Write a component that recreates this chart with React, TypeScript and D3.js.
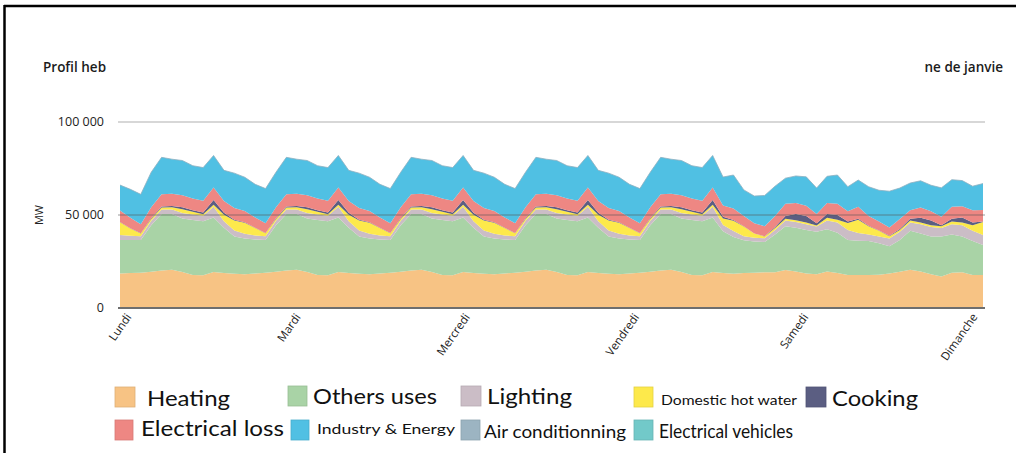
import React from "react";
import * as d3 from "d3";

const width = 1016;
const height = 453;
const plot = { left: 120, right: 983, top: 122, bottom: 308 };

// one point every 2 hours, Monday 0h -> Sunday 22h
const hours = d3.range(0, 168, 2);
const dayLabels = ["Lundi", "Mardi", "Mercredi", "Vendredi", "Samedi", "Dimanche"];
const yTicks = [0, 50, 100]; // thousands of MW

// values in thousands of MW, 12 points per day
const heating = [
  18.6, 18.8, 19.0, 19.5, 20.2, 20.5, 19.3, 17.8, 17.6, 19.4, 18.8, 18.4,
  18.2, 18.6, 19.0, 19.5, 20.2, 20.5, 19.3, 17.8, 17.6, 19.4, 18.8, 18.4,
  18.2, 18.6, 19.0, 19.5, 20.2, 20.5, 19.3, 17.8, 17.6, 19.4, 18.8, 18.4,
  18.2, 18.6, 19.0, 19.5, 20.2, 20.5, 19.3, 17.8, 17.6, 19.4, 18.8, 18.4,
  18.2, 18.6, 19.0, 19.5, 20.2, 20.5, 19.3, 17.8, 17.6, 19.4, 18.8, 18.4,
  18.8, 19.0, 19.2, 19.2, 20.4, 19.6, 18.5, 18.2, 19.6, 18.8, 17.7, 17.7,
  17.7, 17.9, 18.5, 19.5, 20.6, 19.6, 18.2, 16.9, 19.0, 19.2, 17.7, 17.7,
];
const others = [
  18.0, 17.8, 17.6, 25.0, 30.3, 30.0, 28.8, 29.5, 29.0, 29.3, 24.4, 20.0,
  19.1, 18.2, 17.6, 25.0, 30.3, 30.0, 28.8, 29.5, 29.0, 29.3, 24.4, 20.0,
  19.1, 18.2, 17.6, 25.0, 30.3, 30.0, 28.8, 29.5, 29.0, 29.3, 24.4, 20.0,
  19.1, 18.2, 17.6, 25.0, 30.3, 30.0, 28.8, 29.5, 29.0, 29.3, 24.4, 20.0,
  19.1, 18.2, 17.6, 25.0, 30.3, 30.0, 28.8, 29.5, 29.0, 29.3, 22.5, 19.8,
  17.6, 16.8, 16.3, 20.3, 23.6, 23.6, 23.5, 22.8, 22.7, 21.7, 18.9, 18.5,
  18.3, 16.9, 14.7, 17.1, 20.9, 20.4, 20.3, 21.5, 20.5, 19.3, 18.3, 16.2,
];
const lighting = [
  2.7, 2.2, 2.0, 2.4, 2.5, 2.5, 3.0, 3.0, 3.0, 5.8, 3.5, 3.2,
  2.6, 2.2, 2.0, 2.4, 2.5, 2.5, 3.0, 3.0, 3.0, 5.8, 3.5, 3.2,
  2.6, 2.2, 2.0, 2.4, 2.5, 2.5, 3.0, 3.0, 3.0, 5.8, 3.5, 3.2,
  2.6, 2.2, 2.0, 2.4, 2.5, 2.5, 3.0, 3.0, 3.0, 5.8, 3.5, 3.2,
  2.6, 2.2, 2.0, 2.4, 2.5, 2.5, 3.0, 3.0, 3.0, 5.8, 3.3, 3.2,
  2.2, 2.0, 2.0, 2.5, 3.0, 3.1, 3.0, 2.8, 4.7, 5.5, 5.3, 4.1,
  3.5, 3.7, 4.1, 4.4, 4.5, 5.0, 5.0, 4.6, 5.5, 6.0, 5.5, 5.3,
];
const hotWater = [
  6.8, 4.0, 1.5, 1.0, 1.0, 1.2, 2.0, 1.5, 0.8, 1.0, 3.5, 5.5,
  6.0, 4.0, 1.6, 1.0, 1.0, 1.2, 2.0, 1.5, 0.8, 1.0, 3.5, 5.5,
  6.0, 4.0, 1.6, 1.0, 1.0, 1.2, 2.0, 1.5, 0.8, 1.0, 3.5, 5.5,
  6.0, 4.0, 1.6, 1.0, 1.0, 1.2, 2.0, 1.5, 0.8, 1.0, 3.5, 5.5,
  6.0, 4.0, 1.6, 1.0, 1.0, 1.2, 2.0, 1.5, 0.8, 1.0, 3.5, 5.5,
  5.2, 2.2, 1.0, 1.0, 1.0, 0.9, 1.0, 0.5, 1.5, 1.5, 3.8, 7.2,
  4.5, 3.0, 1.3, 1.0, 1.0, 1.0, 1.0, 1.0, 1.5, 1.5, 3.0, 7.0,
];
const cooking = [
  0.2, 0.1, 0.1, 0.3, 0.6, 0.6, 1.0, 0.8, 1.0, 2.5, 1.0, 0.4,
  0.2, 0.1, 0.1, 0.3, 0.6, 0.6, 1.0, 0.8, 1.0, 2.5, 1.0, 0.4,
  0.2, 0.1, 0.1, 0.3, 0.6, 0.6, 1.0, 0.8, 1.0, 2.5, 1.0, 0.4,
  0.2, 0.1, 0.1, 0.3, 0.6, 0.6, 1.0, 0.8, 1.0, 2.5, 1.0, 0.4,
  0.2, 0.1, 0.1, 0.3, 0.6, 0.6, 1.0, 0.8, 1.0, 2.5, 1.0, 0.4,
  0.2, 0.1, 0.1, 0.5, 1.5, 3.3, 3.5, 1.2, 2.0, 2.5, 0.8, 0.5,
  0.2, 0.1, 0.2, 0.5, 1.0, 2.5, 2.5, 0.5, 1.5, 2.7, 1.5, 0.3,
];
const loss = [
  6.1, 5.6, 4.8, 6.0, 6.5, 6.6, 6.5, 6.3, 6.2, 6.8, 6.3, 6.2,
  6.0, 5.6, 5.3, 6.0, 6.5, 6.6, 6.5, 6.3, 6.2, 6.8, 6.3, 6.2,
  6.0, 5.6, 5.3, 6.0, 6.5, 6.6, 6.5, 6.3, 6.2, 6.8, 6.3, 6.2,
  6.0, 5.6, 5.3, 6.0, 6.5, 6.6, 6.5, 6.3, 6.2, 6.8, 6.3, 6.2,
  6.0, 5.6, 5.3, 6.0, 6.5, 6.6, 6.5, 6.3, 6.2, 6.8, 6.0, 6.2,
  5.5, 5.4, 5.4, 6.0, 6.5, 6.0, 5.5, 5.0, 6.0, 6.0, 5.5, 6.5,
  5.3, 4.9, 4.5, 5.3, 4.5, 5.5, 5.0, 4.5, 6.5, 6.0, 6.5, 6.2,
];
const industry = [
  13.7, 15.3, 16.1, 18.8, 19.9, 18.6, 18.7, 17.6, 17.9, 17.2, 16.5, 18.8,
  18.2, 17.8, 18.6, 18.8, 19.9, 18.6, 18.7, 17.6, 17.9, 17.2, 16.5, 18.8,
  18.2, 17.8, 18.6, 18.8, 19.9, 18.6, 18.7, 17.6, 17.9, 17.2, 16.5, 18.8,
  18.2, 17.8, 18.6, 18.8, 19.9, 18.6, 18.7, 17.6, 17.9, 17.2, 16.5, 18.8,
  18.2, 17.8, 18.6, 18.8, 19.9, 18.6, 18.7, 17.6, 17.9, 17.2, 15.3, 18.0,
  14.0, 14.7, 16.5, 16.0, 13.8, 14.5, 15.5, 14.0, 14.3, 15.5, 13.2, 14.3,
  15.7, 16.8, 19.5, 16.7, 14.7, 14.4, 14.0, 15.6, 14.5, 13.8, 13.0, 14.2,
];

const stackKeys = ["heating", "others", "lighting", "hotWater", "cooking", "loss", "industry"];
const colors: Record<string, string> = {
  heating: "#f7c384",
  others: "#a9d3a6",
  lighting: "#cbbdc6",
  hotWater: "#fde94b",
  cooking: "#5b5e82",
  loss: "#ee8783",
  industry: "#50c0e3",
  ac: "#9cb4c2",
  ev: "#72c9c9",
};

// legend layout
const legend = [
  { key: "heating", label: "Heating", sx: 115, sy: 387, sw: 20, tx: 147, ty: 406, fs: 21, tl: 83 },
  { key: "others", label: "Others uses", sx: 288, sy: 386, sw: 19, tx: 313, ty: 404, fs: 21, tl: 124 },
  { key: "lighting", label: "Lighting", sx: 461, sy: 386, sw: 20, tx: 487, ty: 404, fs: 21, tl: 85 },
  { key: "hotWater", label: "Domestic hot water", sx: 634, sy: 387, sw: 19, tx: 661, ty: 405, fs: 14, tl: 136 },
  { key: "cooking", label: "Cooking", sx: 806, sy: 387, sw: 20, tx: 832, ty: 406, fs: 22, tl: 86 },
  { key: "loss", label: "Electrical loss", sx: 115, sy: 420, sw: 18, tx: 141, ty: 436, fs: 22, tl: 143 },
  { key: "industry", label: "Industry & Energy", sx: 291, sy: 420, sw: 18, tx: 317, ty: 434, fs: 14, tl: 138 },
  { key: "ac", label: "Air conditionning", sx: 461, sy: 420, sw: 19, tx: 484, ty: 438, fs: 18, tl: 142 },
  { key: "ev", label: "Electrical vehicles", sx: 634, sy: 420, sw: 19, tx: 659, ty: 438, fs: 20, tl: 134 },
];

export default function App() {
  const rows = hours.map((h, i) => ({
    h,
    heating: heating[i],
    others: others[i],
    lighting: lighting[i],
    hotWater: hotWater[i],
    cooking: cooking[i],
    loss: loss[i],
    industry: industry[i],
  }));

  const x = d3.scaleLinear().domain([0, 166]).range([plot.left, plot.right]);
  const y = d3.scaleLinear().domain([0, 100]).range([plot.bottom, plot.top]);
  const dayX = d3.scalePoint().domain(dayLabels).range([132, 978]);

  const series = d3.stack<any>().keys(stackKeys)(rows);
  const area = d3
    .area<any>()
    .x((d) => x(d.data.h))
    .y0((d) => y(d[0]))
    .y1((d) => y(d[1]));
  const topLine = d3
    .line<any>()
    .x((d) => x(d.data.h))
    .y((d) => y(d[1]));

  const fmt = (v: number) => d3.format(",")(v * 1000).replace(/,/g, " ");
  const axisFont = "'Open Sans', 'DejaVu Sans', sans-serif";
  const legendFont = "Lato, 'Open Sans', sans-serif";

  return (
    <svg
      width={width}
      height={height}
      style={{ position: "absolute", left: 0, top: 0, background: "#fff" }}
    >
      {/* frame */}
      <line x1={4} x2={1016} y1={6} y2={6} stroke="#000" strokeWidth={2.5} />
      <line x1={4.5} x2={4.5} y1={5} y2={453} stroke="#000" strokeWidth={2.5} />

      {/* title fragments */}
      <text x={43} y={72} fontFamily={axisFont} fontSize={13.5} fontWeight={600} fill="#1b1b1b">
        Profil heb
      </text>
      <text x={1003} y={72} textAnchor="end" fontFamily={axisFont} fontSize={13.5} fontWeight={600} fill="#1b1b1b">
        ne de janvie
      </text>

      {/* grid 100 000 */}
      <line x1={118} x2={985} y1={y(100)} y2={y(100)} stroke="#cacaca" strokeWidth={1.5} />

      {series.map((s) => (
        <path key={s.key} d={area(s) || ""} fill={colors[s.key]} />
      ))}
      <path
        d={topLine(series[series.length - 1]) || ""}
        fill="none"
        stroke="#8fb0c0"
        strokeWidth={1}
        opacity={0.8}
      />

      {/* grid 50 000 over the areas */}
      <line x1={118} x2={985} y1={y(50)} y2={y(50)} stroke="#555" strokeOpacity={0.4} strokeWidth={1.5} />
      {/* baseline */}
      <line x1={118} x2={985} y1={y(0)} y2={y(0)} stroke="#6e6e6e" strokeWidth={2} />

      {yTicks.map((t) => (
        <text
          key={t}
          x={104}
          y={y(t)}
          dy="0.35em"
          textAnchor="end"
          fontFamily={axisFont}
          fontSize={12.5}
          fill="#222"
        >
          {fmt(t)}
        </text>
      ))}
      <text
        transform={`translate(43,${y(50)}) rotate(-90)`}
        textAnchor="middle"
        fontFamily={axisFont}
        fontSize={11}
        fill="#222"
      >
        MW
      </text>

      {dayLabels.map((d) => (
        <text
          key={d}
          transform={`translate(${dayX(d)},317) rotate(-55)`}
          textAnchor="end"
          fontFamily={axisFont}
          fontSize={11.5}
          fill="#222"
        >
          {d}
        </text>
      ))}

      {legend.map((l) => (
        <g key={l.key}>
          <rect
            x={l.sx}
            y={l.sy}
            width={l.sw}
            height={20}
            fill={colors[l.key]}
            stroke={d3.color(colors[l.key])!.darker(0.3).toString()}
            strokeWidth={0.8}
          />
          <text
            x={l.tx}
            y={l.ty}
            fontFamily={legendFont}
            fontSize={l.fs}
            textLength={l.tl}
            lengthAdjust="spacingAndGlyphs"
            fill="#111"
          >
            {l.label}
          </text>
        </g>
      ))}
    </svg>
  );
}
